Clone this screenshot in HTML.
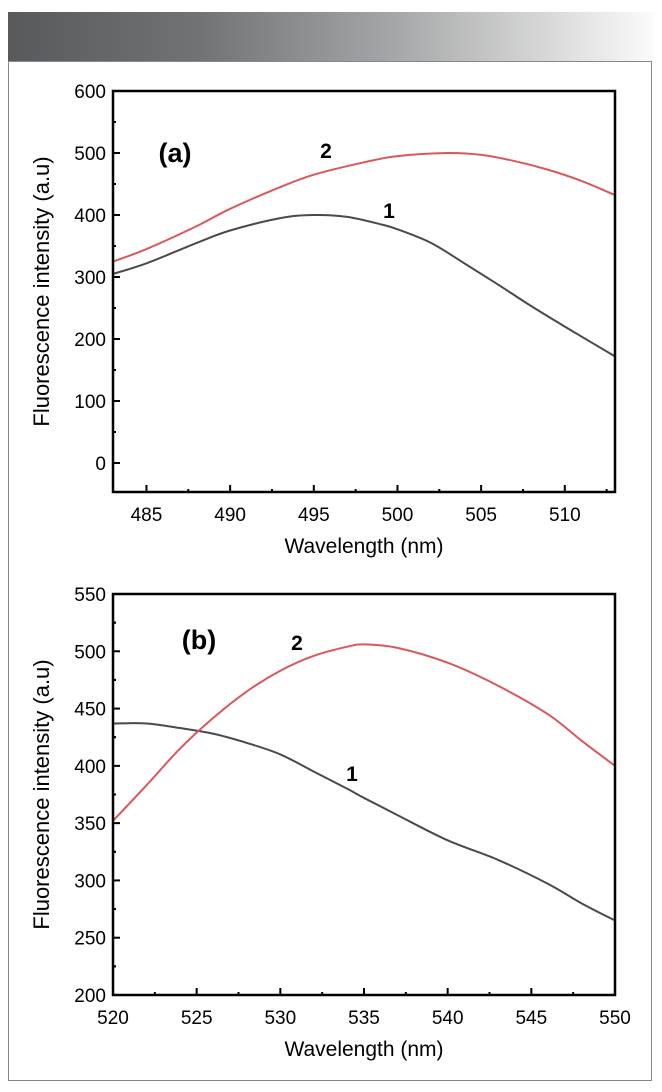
<!DOCTYPE html>
<html><head><meta charset="utf-8"><style>
body{margin:0;background:#fff;width:662px;height:1092px;overflow:hidden;font-family:"Liberation Sans",sans-serif}
</style></head><body>
<svg width="662" height="1092" style="position:absolute;left:0;top:0">
<defs><linearGradient id="g" x1="0" x2="1"><stop offset="0" stop-color="#58595b"/><stop offset="0.3" stop-color="#727375"/><stop offset="0.6" stop-color="#a6a7a8"/><stop offset="1" stop-color="#fbfbfb"/></linearGradient></defs>
<rect x="8" y="12" width="646" height="50" fill="url(#g)"/>
<rect x="8.5" y="61.5" width="643" height="1019" fill="none" stroke="#888" stroke-width="1"/>
<g id="ca"></g>
<g id="cb"></g>
</svg>
<script>
const aX=[483,485,488,490,493,495,497,499,500,502,504,506,508,510,513];
const aGray=[305,322,355,375,395,400,397,385,377,355,322,288,253,220,172];
const aRedX=[483,485,488,490,493,495,498,500,503,505,507,509,511,513];
const aRed=[325,345,382,410,445,465,485,495,500,497,487,473,455,432];
const aXTicks=[485,490,495,500,505,510];
const aYTicks=[0,100,200,300,400,500,600];
const bX=[520,522,524,526,528,530,532,534,535,537,540,543,546,548,550];
const bGray=[437,437,433,428,420,410,395,380,372,357,335,318,297,280,265];
const bRed=[352,383,415,442,465,483,496,504,506,503,490,470,445,422,400];
const bXTicks=[520,525,530,535,540,545,550];
const bYTicks=[200,250,300,350,400,450,500,550];
const NS="http://www.w3.org/2000/svg";
function mk(p,t,a){const e=document.createElementNS(NS,t);for(const k in a)e.setAttribute(k,a[k]);p.appendChild(e);return e;}
function smooth(pts){let d=`M${pts[0][0]},${pts[0][1]}`;
 for(let i=0;i<pts.length-1;i++){const p0=pts[i-1]||pts[i],p1=pts[i],p2=pts[i+1],p3=pts[i+2]||p2;
  d+=`C${p1[0]+(p2[0]-p0[0])/6},${p1[1]+(p2[1]-p0[1])/6} ${p2[0]-(p3[0]-p1[0])/6},${p2[1]-(p3[1]-p1[1])/6} ${p2[0]},${p2[1]}`;}
 return d;}
function chart(g,o){
 const L=113,R=615,T=o.top,B=o.bottom;
 const sx=v=>L+(v-o.x0)/(o.x1-o.x0)*(R-L);
 const sy=v=>o.yb+(v-o.ylo)/(o.yhi-o.ylo)*(o.ytop-o.yb);
 o.series.forEach(s=>{
  const p=mk(g,'path',{d:smooth(s.x.map((v,i)=>[sx(v),sy(s.y[i])])),fill:'none',stroke:s.c,'stroke-width':2,'stroke-linejoin':'round'});
  });
 const ax=mk(g,'path',{d:`M${L},${T}H${R}V${B}H${L}Z`,fill:'none',stroke:'#000','stroke-width':2.5});
 
 o.xticks.forEach((v,i)=>{const x=sx(v);
  const t=mk(g,'line',{x1:x,x2:x,y1:B,y2:B-7,stroke:'#000','stroke-width':2});
  
  if(v+2.5<o.x1){const m=sx(v+2.5);mk(g,'line',{x1:m,x2:m,y1:B,y2:B-3,stroke:'#000','stroke-width':2});}
  if(i==0&&v-2.5>o.x0){const m2=sx(v-2.5);mk(g,'line',{x1:m2,x2:m2,y1:B,y2:B-3,stroke:'#000','stroke-width':2});}
  const l=mk(g,'text',{x:x,y:B+29,'font-size':19,'text-anchor':'middle'});l.textContent=v;
  });
 const st=o.ystep;
 o.yticks.forEach(v=>{const y=sy(v);
  const t=mk(g,'line',{x1:L,x2:L+7,y1:y,y2:y,stroke:'#000','stroke-width':2});
  
  [v-st/2,v+st/2].forEach(m=>{const ym=sy(m);if(ym>T+2&&ym<B-2)mk(g,'line',{x1:L,x2:L+3,y1:ym,y2:ym,stroke:'#000','stroke-width':2});});
  const l=mk(g,'text',{x:L-7,y:y+7,'font-size':19,'text-anchor':'end'});l.textContent=v;
  });
 const xt=mk(g,'text',{x:364,y:B+61,'font-size':21,'text-anchor':'middle'});xt.textContent='Wavelength (nm)';
 
 const cy=(T+B)/2;
 const yt=mk(g,'text',{x:49,y:cy,'font-size':22,'text-anchor':'middle',transform:`rotate(-90 49 ${cy})`});yt.textContent='Fluorescence intensity (a.u)';
 
 o.labels.forEach(t=>{const e=mk(g,'text',{x:t[0],y:t[1],'font-size':t[3],'font-weight':'bold','text-anchor':'middle'});e.textContent=t[2];
  });
}
chart(document.getElementById('ca'),{top:91,bottom:492,x0:483,x1:513,ylo:0,yhi:600,yb:463,ytop:91,xticks:aXTicks,yticks:aYTicks,ystep:100,
 series:[{x:aX,y:aGray,c:'#4a4a4a',n:'curve-1'},{x:aRedX,y:aRed,c:'#d9585c',n:'curve-2'}],
 labels:[[175,162,'(a)',27,'panel-label-a'],[326,158,'2',21,'curve-label-2'],[389,218,'1',21,'curve-label-1']]});
chart(document.getElementById('cb'),{top:594,bottom:995,x0:520,x1:550,ylo:200,yhi:550,yb:995,ytop:594,xticks:bXTicks,yticks:bYTicks,ystep:50,
 series:[{x:bX,y:bGray,c:'#4a4a4a',n:'curve-1'},{x:bX,y:bRed,c:'#d9585c',n:'curve-2'}],
 labels:[[199,649,'(b)',27,'panel-label-b'],[297,650,'2',21,'curve-label-2'],[352,781,'1',21,'curve-label-1']]});
</script>
</body></html>
